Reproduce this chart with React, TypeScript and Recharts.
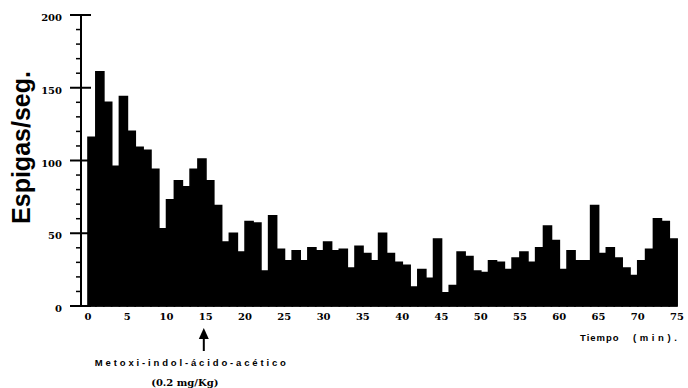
import React from 'react';
import { BarChart, Bar, XAxis, YAxis, Label } from 'recharts';

// Spikes per second, one bar per minute (0-75 min)
const spikeRates: number[] = [
  116, 161, 140, 96, 144, 120, 109, 107, 94, 53,
  73, 86, 82, 94, 101, 86, 69, 44, 50, 37,
  58, 57, 24, 62, 39, 31, 38, 31, 40, 38,
  44, 38, 39, 26, 41, 36, 31, 50, 36, 30,
  28, 13, 25, 19, 46, 9, 14, 37, 34, 24,
  23, 31, 30, 25, 33, 37, 30, 40, 55, 45,
  25, 38, 31, 31, 69, 36, 40, 33, 26, 21,
  31, 39, 60, 58, 46,
];

const xTicks: number[] = [0, 5, 10, 15, 20, 25, 30, 35, 40, 45, 50, 55, 60, 65, 70, 75];
const yTicks: number[] = [0, 10, 20, 30, 40, 50, 60, 70, 80, 90, 100, 110, 120, 130, 140, 150, 160, 170, 180, 190, 200];
const yMajor: number[] = [0, 50, 100, 150, 200];

const injectionMinute = 15;
const injectionLabel = 'Metoxi-indol-ácido-acético';
const doseLabel = '(0.2 mg/Kg)';
const yTitle = 'Espigas/seg.';
const xTitleA = 'Tiempo';
const xTitleB = '(min).';

const data = spikeRates.map((v, i) => ({ t: i + 0.5, v }));

const numFont = '"DejaVu Serif", serif';
const sansFont = '"Liberation Sans", Arial, sans-serif';

const YTick = (props: any) => {
  const { x, y, payload } = props;
  const v = payload.value;
  const major = yMajor.includes(v);
  return (
    <g>
      <line
        x1={major ? x - 11 : x - 5}
        x2={major ? x + 10 : x + 0.5}
        y1={y}
        y2={y}
        stroke="#000"
        strokeWidth={major ? 2 : 1.5}
      />
      {major && (
        <text x={x - 19} y={y + 6} textAnchor="end" fontFamily={numFont} fontWeight="bold" fontSize={10} fill="#000">
          {v}
        </text>
      )}
    </g>
  );
};

const XTick = (props: any) => {
  const { x, y, payload } = props;
  const v = payload.value;
  return (
    <g>
      <text x={x} y={y + 14} textAnchor="middle" fontFamily={numFont} fontWeight="bold" fontSize={10} fill="#000">
        {v}
      </text>
      {v === injectionMinute && (
        <g>
          <line x1={x - 2} x2={x - 2} y1={y + 30} y2={y + 45} stroke="#000" strokeWidth={2} />
          <polygon points={`${x - 2},${y + 22} ${x - 7},${y + 33} ${x + 3},${y + 33}`} fill="#000" />
          <text x={x - 14} y={y + 60} textAnchor="middle" fontFamily={sansFont} fontWeight="bold" fontSize={9.5} letterSpacing={2.85} fill="#000">
            {injectionLabel}
          </text>
          <text x={x - 21} y={y + 80} textAnchor="middle" fontFamily={numFont} fontWeight="bold" fontSize={10} fill="#000">
            {doseLabel}
          </text>
        </g>
      )}
    </g>
  );
};

const XTitle = (props: any) => {
  const vb = props.viewBox || {};
  const right = vb.x + vb.width;
  return (
    <g>
      <text x={right - 97} y={vb.y + 35} fontFamily={sansFont} fontWeight="bold" fontSize={9.5} letterSpacing={1} fill="#000">
        {xTitleA}
      </text>
      <text x={right - 44} y={vb.y + 35} fontFamily={sansFont} fontWeight="bold" fontSize={9.5} letterSpacing={3.6} fill="#000">
        {xTitleB}
      </text>
    </g>
  );
};

const YTitle = (props: any) => {
  const vb = props.viewBox || {};
  const cx = 30;
  const cy = vb.y + vb.height / 2 - 13;
  return (
    <text
      x={cx}
      y={cy}
      transform={`rotate(-90 ${cx} ${cy})`}
      textAnchor="middle"
      fontFamily={sansFont}
      fontWeight="bold"
      fontSize={25}
      fill="#000"
    >
      {yTitle}
    </text>
  );
};

export default function App() {
  return (
    <div style={{ position: 'absolute', left: 0, top: 0, width: 688, height: 388, background: '#fff' }}>
      <BarChart
        width={688}
        height={388}
        data={data}
        margin={{ top: 15, right: 11, bottom: 52, left: 0 }}
        barCategoryGap={0}
        barGap={0}
      >
        <XAxis
          dataKey="t"
          type="number"
          domain={[0, 75]}
          ticks={xTicks}
          interval={0}
          padding={{ left: 7, right: 0 }}
          height={30}
          tickSize={0}
          tickMargin={0}
          tickLine={false}
          axisLine={{ stroke: '#000', strokeWidth: 1 }}
          tick={<XTick />}
          allowDecimals={false}
        >
          <Label content={<XTitle />} />
        </XAxis>
        <YAxis
          type="number"
          domain={[0, 200]}
          ticks={yTicks}
          interval={0}
          width={81}
          tickSize={0}
          tickMargin={0}
          tickLine={false}
          axisLine={{ stroke: '#000', strokeWidth: 2 }}
          tick={<YTick />}
        >
          <Label content={<YTitle />} />
        </YAxis>
        <Bar dataKey="v" fill="#000" stroke="#000" strokeWidth={1.6} isAnimationActive={false} />
      </BarChart>
    </div>
  );
}
